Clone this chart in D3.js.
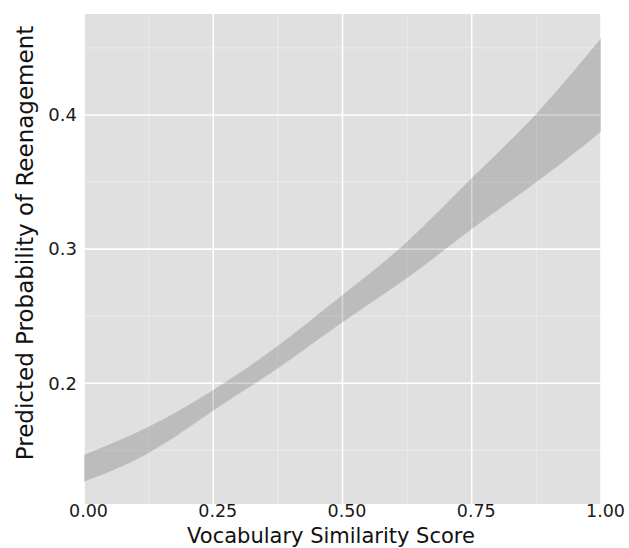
<!DOCTYPE html>
<html>
<head>
<meta charset="utf-8">
<script src="https://cdn.jsdelivr.net/npm/d3@7"></script>
<style>
  body { margin: 0; background: #fff; }
  text { font-family: "DejaVu Sans", Verdana, sans-serif; }
</style>
</head>
<body>
<svg id="svg1" width="629" height="548"></svg>
<script>
// values
var scoreX = [0, 0.125, 0.25, 0.375, 0.5, 0.625, 0.75, 0.875, 1];
var upperP = [0.1466, 0.1676, 0.1950, 0.2280, 0.2658, 0.3056, 0.3530, 0.4010, 0.4572];
var lowerP = [0.1266, 0.1480, 0.1795, 0.2112, 0.2455, 0.2785, 0.3150, 0.3500, 0.3876];
var xTicks = [0, 0.25, 0.5, 0.75, 1];
var xMinor = [0.125, 0.375, 0.625, 0.875];
var yTicks = [0.2, 0.3, 0.4];
var yMinor = [0.15, 0.25, 0.35, 0.45];

var svg = d3.select("#svg1");
var margin = {top: 14, right: 28, bottom: 44, left: 84};
var width = +svg.attr("width") - margin.left - margin.right,
    height = +svg.attr("height") - margin.top - margin.bottom;

var x = d3.scaleLinear().domain([0, 1]).range([0, width]);
var y = d3.scaleLinear().domain([0.110, 0.4753]).range([height, 0]);

var data = scoreX.map(function(d, i) {
  return {x: d, lo: lowerP[i], hi: upperP[i]};
});

var g = svg.append("g")
    .attr("transform", "translate(" + margin.left + "," + margin.top + ")");

g.append("rect")
    .attr("width", width)
    .attr("height", height)
    .attr("fill", "#e0e0e0");

// minor grid
g.selectAll(".xminor").data(xMinor).enter().append("line")
    .attr("x1", x).attr("x2", x)
    .attr("y1", 0).attr("y2", height)
    .attr("stroke", "#fff").attr("stroke-opacity", 0.45).attr("stroke-width", 0.8);
g.selectAll(".yminor").data(yMinor).enter().append("line")
    .attr("y1", y).attr("y2", y)
    .attr("x1", 0).attr("x2", width)
    .attr("stroke", "#fff").attr("stroke-opacity", 0.45).attr("stroke-width", 0.8);

// major grid
g.selectAll(".xmajor").data(xTicks).enter().append("line")
    .attr("x1", x).attr("x2", x)
    .attr("y1", 0).attr("y2", height)
    .attr("stroke", "#fff").attr("stroke-width", 1.6);
g.selectAll(".ymajor").data(yTicks).enter().append("line")
    .attr("y1", y).attr("y2", y)
    .attr("x1", 0).attr("x2", width)
    .attr("stroke", "#fff").attr("stroke-width", 1.6);

var area = d3.area()
    .curve(d3.curveNatural)
    .x(function(d) { return x(d.x); })
    .y0(function(d) { return y(d.lo); })
    .y1(function(d) { return y(d.hi); });

g.append("path")
    .datum(data)
    .attr("d", area)
    .attr("fill", "#000")
    .attr("fill-opacity", 0.16);

var xAxis = d3.axisBottom(x)
    .tickValues(xTicks)
    .tickFormat(d3.format(".2f"))
    .tickSize(0)
    .tickPadding(1);

var yAxis = d3.axisLeft(y)
    .tickValues(yTicks)
    .tickFormat(d3.format(".1f"))
    .tickSize(0)
    .tickPadding(7);

g.append("g")
    .attr("transform", "translate(0," + height + ")")
    .call(xAxis)
    .call(function(s) { s.select(".domain").remove(); })
    .selectAll("text")
    .attr("font-size", 17.5)
    .attr("fill", "#1a1a1a")
    .attr("font-family", "DejaVu Sans, Verdana, sans-serif")
    .attr("dx", 4);

g.append("g")
    .call(yAxis)
    .call(function(s) { s.select(".domain").remove(); })
    .selectAll("text")
    .attr("font-size", 18)
    .attr("fill", "#1a1a1a")
    .attr("font-family", "DejaVu Sans, Verdana, sans-serif");

svg.append("text")
    .attr("x", 331)
    .attr("y", 542.6)
    .attr("text-anchor", "middle")
    .attr("font-size", 21)
    .attr("fill", "#111")
    .text("Vocabulary Similarity Score");

svg.append("text")
    .attr("transform", "translate(33,243) rotate(-90)")
    .attr("text-anchor", "middle")
    .attr("font-size", 23)
    .attr("fill", "#111")
    .text("Predicted Probability of Reenagement");
</script>
</body>
</html>
